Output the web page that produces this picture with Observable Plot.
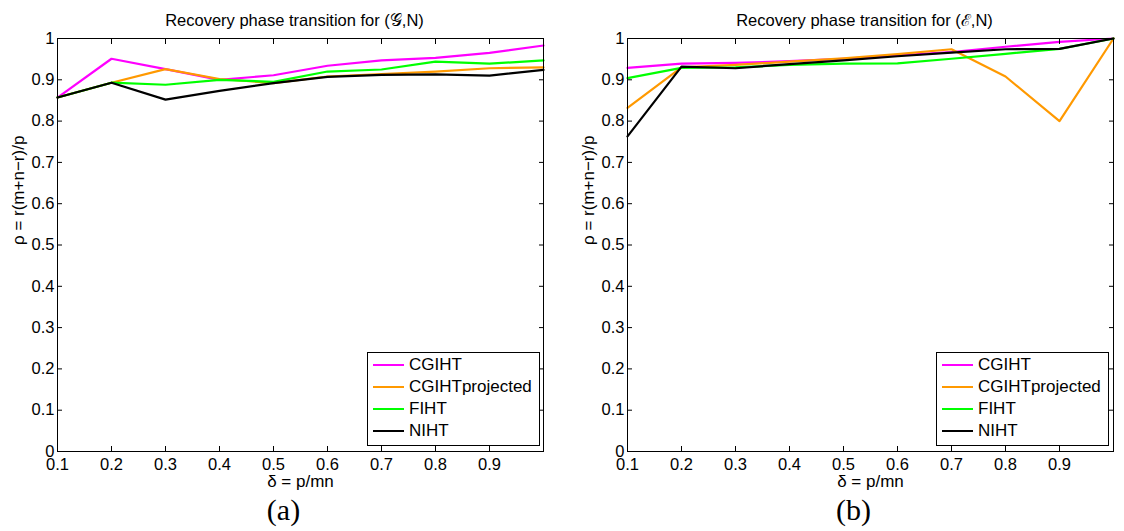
<!DOCTYPE html>
<html><head><meta charset="utf-8">
<script src="https://cdn.jsdelivr.net/npm/d3@7"></script>
<script src="https://cdn.jsdelivr.net/npm/@observablehq/plot@0.6"></script>
<style>
body{margin:0;background:#fff;}
#wrap{position:relative;width:1124px;height:531px;font-family:"Liberation Sans",Arial,sans-serif;overflow:hidden;}
.panel{position:absolute;top:0;}
.legend{position:absolute;box-sizing:border-box;border:1px solid #000;background:#fff;font-size:17px;padding-top:1px;}
.row{height:22px;display:flex;align-items:center;}
.swatch{width:31px;height:2.5px;margin-left:5px;margin-right:5px;}
</style></head><body><div id="wrap"></div>
<script>
const delta = [0.1,0.2,0.3,0.4,0.5,0.6,0.7,0.8,0.9,1.0];
const methods = ["CGIHT","CGIHTprojected","FIHT","NIHT"];
const colors = ["#ff00ff","#ff9900","#00ff00","#000000"];

// Panel (a): (G,N)
const gCGIHT = [0.857,0.951,0.926,0.900,0.911,0.934,0.947,0.953,0.965,0.983];
const gCGIHTprojected = [0.857,0.893,0.926,0.902,0.892,0.908,0.914,0.920,0.928,0.930];
const gFIHT = [0.857,0.893,0.888,0.900,0.895,0.920,0.925,0.944,0.939,0.947];
const gNIHT = [0.857,0.893,0.852,0.873,0.892,0.907,0.912,0.913,0.910,0.924];

// Panel (b): (E,N)
const eCGIHT = [0.929,0.939,0.941,0.945,0.951,0.959,0.967,0.980,0.992,1.000];
const eCGIHTprojected = [0.832,0.930,0.936,0.944,0.952,0.962,0.974,0.908,0.800,1.000];
const eFIHT = [0.904,0.929,0.930,0.936,0.939,0.940,0.951,0.963,0.975,1.000];
const eNIHT = [0.763,0.932,0.928,0.938,0.947,0.957,0.966,0.974,0.975,1.000];

const xTicks = [0.1,0.2,0.3,0.4,0.5,0.6,0.7,0.8,0.9,1.0];
const xTickLabels = ["0.1","0.2","0.3","0.4","0.5","0.6","0.7","0.8","0.9",""];
const yTicks = [0,0.1,0.2,0.3,0.4,0.5,0.6,0.7,0.8,0.9,1];
const yTickLabels = ["0","0.1","0.2","0.3","0.4","0.5","0.6","0.7","0.8","0.9","1"];

const titles = ["Recovery phase transition for (\u{1D4A2},N)", "Recovery phase transition for (\u2130,N)"];
const tags = ["(a)","(b)"];
const xLabel = "\u03B4 = p/mn";
const yLabel = "\u03C1 = r(m+n\u2212r)/p";

function rowsOf(seriesList){
  const rows = [];
  seriesList.forEach((vals, k) => vals.forEach((v, i) => rows.push({method: methods[k], delta: delta[i], rho: v})));
  return rows;
}
const xFmt = new Map(xTicks.map((t,i)=>[t, xTickLabels[i]]));
const yFmt = new Map(yTicks.map((t,i)=>[t, yTickLabels[i]]));

function panel(rows, title, tag, ml, mr){
  return Plot.plot({
    width: 562, height: 531,
    marginLeft: ml, marginRight: mr, marginTop: 38, marginBottom: 80,
    style: {fontFamily: "'Liberation Sans', Arial, sans-serif", fontSize: "16px", color: "#000", background: "transparent", overflow: "visible"},
    x: {domain: [0.1, 1]},
    y: {domain: [0, 1]},
    color: {domain: methods, range: colors},
    marks: [
      Plot.line(rows, {x: "delta", y: "rho", z: "method", stroke: "method", strokeWidth: 2.2}),
      Plot.frame({stroke: "#000", strokeWidth: 1}),
      Plot.axisX(xTicks, {anchor: "bottom", tickSize: 0, tickPadding: 7, tickFormat: d => xFmt.get(d), fontSize: 16.5, label: null}),
      Plot.axisX(xTicks, {anchor: "bottom", tickSize: -5, tickFormat: () => "", label: null}),
      Plot.axisX(xTicks, {anchor: "top", tickSize: -5, tickFormat: () => "", label: null}),
      Plot.axisY(yTicks, {anchor: "left", tickSize: 0, tickPadding: 3, tickFormat: d => yFmt.get(d), fontSize: 16.5, label: null}),
      Plot.axisY(yTicks, {anchor: "left", tickSize: -5, tickFormat: () => "", label: null}),
      Plot.axisY(yTicks, {anchor: "right", tickSize: -5, tickFormat: () => "", label: null}),
      Plot.text([xLabel], {frameAnchor: "bottom", dy: 35, fontSize: 17, fill: "#000"}),
      Plot.text([yLabel], {frameAnchor: "left", dx: -39, rotate: -90, fontSize: 17, fill: "#000"}),
      Plot.text([title], {frameAnchor: "top", dx: -6, dy: -24, fontSize: 16.5, fill: "#000"}),
      Plot.text([tag], {frameAnchor: "bottom", dx: -17, dy: 68, fontSize: 30, fontFamily: "'Liberation Serif', 'DejaVu Serif', serif", fill: "#000"})
    ]
  });
}

const wrap = document.getElementById("wrap");
const p1 = panel(rowsOf([gCGIHT,gCGIHTprojected,gFIHT,gNIHT]), titles[0], tags[0], 57, 19);
p1.classList.add("panel"); p1.style.left = "0px";
const p2 = panel(rowsOf([eCGIHT,eCGIHTprojected,eFIHT,eNIHT]), titles[1], tags[1], 65, 11);
p2.classList.add("panel"); p2.style.left = "562px";
wrap.appendChild(p1); wrap.appendChild(p2);

function legend(left){
  const d = document.createElement("div");
  d.className = "legend";
  d.style.left = left + "px"; d.style.top = "352px"; d.style.width = "173px"; d.style.height = "94px";
  methods.forEach((m, i) => {
    const r = document.createElement("div"); r.className = "row";
    const s = document.createElement("span"); s.className = "swatch"; s.style.background = colors[i];
    const t = document.createElement("span"); t.textContent = m;
    r.appendChild(s); r.appendChild(t); d.appendChild(r);
  });
  wrap.appendChild(d);
}
legend(367);
legend(936);
</script></body></html>
